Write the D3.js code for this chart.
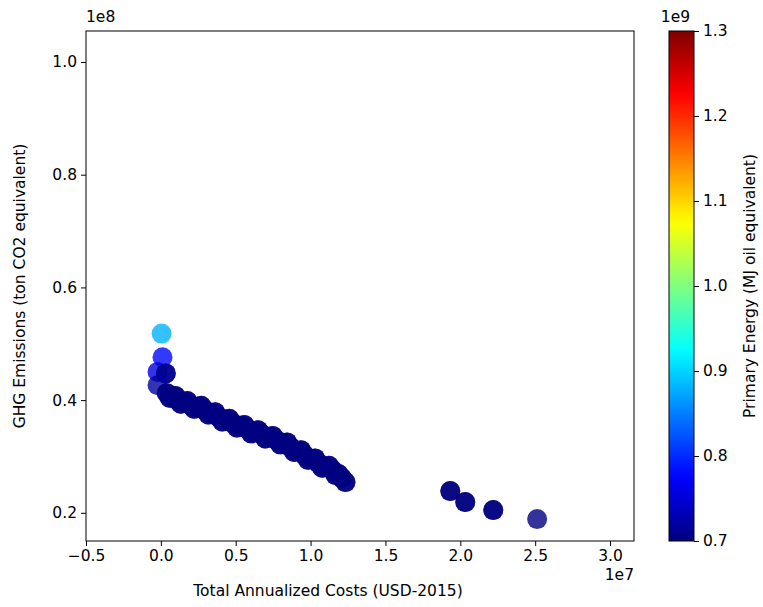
<!DOCTYPE html>
<html lang="en">
  <head>
    <meta charset="utf-8">
    <title>GHG vs costs</title>
    <script type="text/javascript" src="https://cdn.jsdelivr.net/npm/d3@7"></script>
    <style>
      body { margin: 0; background: #fff; }
      .axis text { font-family: "DejaVu Sans", sans-serif; font-size: 15.5px; fill: #000; }
      .axis line { stroke: #000; }
      .lbl { font-family: "DejaVu Sans", sans-serif; font-size: 15.5px; fill: #000; }
    </style>
  </head>
  <body>
    <script type="text/javascript">

      // total annualized costs (USD-2015)
      var costs = [
        0.005e7, 0.011e7, -0.022e7, 0.033e7, 0.033e7, -0.022e7,
        0.04e7, 0.06e7, 0.08e7, 0.097e7, 0.113e7, 0.133e7, 0.153e7, 0.177e7,
        0.2e7, 0.223e7, 0.247e7, 0.27e7, 0.293e7, 0.317e7, 0.34e7, 0.363e7,
        0.387e7, 0.41e7, 0.433e7, 0.457e7, 0.48e7, 0.507e7, 0.533e7, 0.557e7,
        0.58e7, 0.603e7, 0.627e7, 0.65e7, 0.673e7, 0.697e7, 0.72e7, 0.747e7,
        0.773e7, 0.797e7, 0.82e7, 0.843e7, 0.867e7, 0.89e7, 0.913e7, 0.937e7,
        0.96e7, 0.983e7, 1.007e7, 1.03e7, 1.053e7, 1.077e7, 1.1e7, 1.123e7,
        1.147e7, 1.167e7, 1.187e7, 1.21e7, 1.233e7,
        0.04e7, 0.06e7, 0.08e7, 0.097e7, 0.113e7, 0.133e7, 0.153e7, 0.177e7,
        0.2e7, 0.223e7, 0.247e7, 0.27e7, 0.293e7, 0.317e7, 0.34e7, 0.363e7,
        0.387e7, 0.41e7, 0.433e7, 0.457e7, 0.48e7, 0.507e7, 0.533e7, 0.557e7,
        0.58e7, 0.603e7, 0.627e7, 0.65e7, 0.673e7, 0.697e7, 0.72e7, 0.747e7,
        0.773e7, 0.797e7, 0.82e7, 0.843e7, 0.867e7, 0.89e7, 0.913e7, 0.937e7,
        0.96e7, 0.983e7, 1.007e7, 1.03e7, 1.053e7, 1.077e7, 1.1e7, 1.123e7,
        1.147e7, 1.167e7, 1.187e7, 1.21e7, 1.233e7,
        1.933e7, 1.933e7, 2.033e7, 2.033e7, 2.22e7, 2.22e7, 2.513e7
      ];
      // GHG emissions (ton CO2 equivalent)
      var emissions = [
        0.518e8, 0.476e8, 0.450e8, 0.4474e8, 0.4474e8, 0.4266e8,
        0.4124e8, 0.4040e8, 0.4053e8, 0.4075e8, 0.400e8, 0.3935e8, 0.3965e8, 0.3985e8,
        0.3911e8, 0.3845e8, 0.3876e8, 0.3900e8, 0.3823e8, 0.3745e8, 0.3769e8, 0.3785e8,
        0.3698e8, 0.3620e8, 0.3645e8, 0.3670e8, 0.3592e8, 0.3515e8, 0.3539e8, 0.3560e8,
        0.3486e8, 0.3410e8, 0.3432e8, 0.3465e8, 0.3397e8, 0.3320e8, 0.3344e8, 0.3365e8,
        0.3290e8, 0.3215e8, 0.3237e8, 0.3250e8, 0.3166e8, 0.3080e8, 0.3095e8, 0.3110e8,
        0.3024e8, 0.2940e8, 0.2953e8, 0.2965e8, 0.2882e8, 0.2800e8, 0.2812e8, 0.2835e8,
        0.2758e8, 0.2670e8, 0.2687e8, 0.2616e8, 0.2545e8,
        0.4124e8, 0.4040e8, 0.4053e8, 0.4075e8, 0.400e8, 0.3935e8, 0.3965e8, 0.3985e8,
        0.3911e8, 0.3845e8, 0.3876e8, 0.3900e8, 0.3823e8, 0.3745e8, 0.3769e8, 0.3785e8,
        0.3698e8, 0.3620e8, 0.3645e8, 0.3670e8, 0.3592e8, 0.3515e8, 0.3539e8, 0.3560e8,
        0.3486e8, 0.3410e8, 0.3432e8, 0.3465e8, 0.3397e8, 0.3320e8, 0.3344e8, 0.3365e8,
        0.3290e8, 0.3215e8, 0.3237e8, 0.3250e8, 0.3166e8, 0.3080e8, 0.3095e8, 0.3110e8,
        0.3024e8, 0.2940e8, 0.2953e8, 0.2965e8, 0.2882e8, 0.2800e8, 0.2812e8, 0.2835e8,
        0.2758e8, 0.2670e8, 0.2687e8, 0.2616e8, 0.2545e8,
        0.2386e8, 0.2386e8, 0.219e8, 0.219e8, 0.2049e8, 0.2049e8, 0.1889e8
      ];
      // primary energy (MJ oil equivalent); every point after the first five is at the bottom of the scale
      var energyTop = [0.88e9, 0.78e9, 0.76e9, 0.71e9, 0.71e9, 0.72e9];
      var energyLow = 0.70e9;

      var xTicks = [-0.5e7, 0, 0.5e7, 1.0e7, 1.5e7, 2.0e7, 2.5e7, 3.0e7];
      var yTicks = [0.2e8, 0.4e8, 0.6e8, 0.8e8, 1.0e8];
      var cTicks = [0.7e9, 0.8e9, 0.9e9, 1.0e9, 1.1e9, 1.2e9, 1.3e9];

      var w = 763;
      var h = 607;
      var pLeft = 86, pRight = 634, pTop = 31, pBottom = 541;
      var cbLeft = 669, cbWidth = 25;

      var mySvg = d3.select("body")
                    .append("svg")
                    .attr("width", w)
                    .attr("height", h);

      var xScale = d3.scaleLinear()
                     .domain([-0.5e7, 3.16e7])
                     .range([pLeft, pRight]);
      var yScale = d3.scaleLinear()
                     .domain([0.15e8, 1.055e8])
                     .range([pBottom, pTop]);

      function jet(t) {
        function c(v) { return Math.max(0, Math.min(1, v)); }
        var r = c(1.5 - Math.abs(4 * t - 3));
        var g = c(1.5 - Math.abs(4 * t - 2));
        var b = c(1.5 - Math.abs(4 * t - 1));
        return d3.rgb(r * 255, g * 255, b * 255).toString();
      }
      var cScale = d3.scaleSequential(jet).domain([0.7e9, 1.3e9]);

      function fmt(div) {
        return function(d) { return (d / div).toFixed(1).replace("-", "\u2212"); };
      }

      // points
      var pts = costs.map(function(d, i) {
        var e = i < energyTop.length ? energyTop[i] : energyLow;
        return [d, emissions[i], e];
      });
      mySvg.append("g")
           .selectAll("circle")
           .data(pts)
           .enter()
           .append("circle")
           .attr("cx", function(d) { return xScale(d[0]); })
           .attr("cy", function(d) { return yScale(d[1]); })
           .attr("r", 10)
           .attr("fill", function(d) { return cScale(d[2]); })
           .attr("fill-opacity", 0.8);

      var xAxis = d3.axisBottom(xScale).tickValues(xTicks).tickSize(5).tickPadding(4).tickFormat(fmt(1e7));
      var yAxis = d3.axisLeft(yScale).tickValues(yTicks).tickSize(5).tickPadding(4).tickFormat(fmt(1e8));

      var gx = mySvg.append("g")
           .attr("class", "axis")
           .attr("transform", "translate(0," + pBottom + ")")
           .call(xAxis);
      gx.select(".domain").remove();
      var gy = mySvg.append("g")
           .attr("class", "axis")
           .attr("transform", "translate(" + pLeft + ",0)")
           .call(yAxis);
      gy.select(".domain").remove();

      mySvg.append("rect")
           .attr("x", pLeft).attr("y", pTop)
           .attr("width", pRight - pLeft).attr("height", pBottom - pTop)
           .attr("fill", "none").attr("stroke", "#000").attr("stroke-width", 1);

      // labels
      mySvg.append("text").attr("class", "lbl")
           .attr("x", 328).attr("y", 596)
           .attr("text-anchor", "middle")
           .text("Total Annualized Costs (USD-2015)");
      mySvg.append("text").attr("class", "lbl")
           .attr("x", pRight).attr("y", 580)
           .attr("text-anchor", "end")
           .text("1e7");
      mySvg.append("text").attr("class", "lbl")
           .attr("x", pLeft).attr("y", 22)
           .text("1e8");
      mySvg.append("text").attr("class", "lbl")
           .attr("transform", "translate(25," + ((pTop + pBottom) / 2) + ") rotate(-90)")
           .attr("text-anchor", "middle")
           .text("GHG Emissions (ton CO2 equivalent)");

      // colorbar
      var defs = mySvg.append("defs");
      var grad = defs.append("linearGradient")
                     .attr("id", "jetgrad")
                     .attr("x1", 0).attr("y1", 1).attr("x2", 0).attr("y2", 0);
      d3.range(0, 1.0001, 0.02).forEach(function(t) {
        grad.append("stop").attr("offset", t).attr("stop-color", jet(t));
      });
      var cAxisScale = d3.scaleLinear().domain([0.7e9, 1.3e9]).range([pBottom, pTop]);
      mySvg.append("rect")
           .attr("x", cbLeft).attr("y", pTop)
           .attr("width", cbWidth).attr("height", pBottom - pTop)
           .attr("fill", "url(#jetgrad)")
           .attr("stroke", "#000").attr("stroke-width", 1);
      var gc = mySvg.append("g")
           .attr("class", "axis")
           .attr("transform", "translate(" + (cbLeft + cbWidth) + ",0)")
           .call(d3.axisRight(cAxisScale).tickValues(cTicks).tickSize(5).tickPadding(4).tickFormat(fmt(1e9)));
      gc.select(".domain").remove();
      mySvg.append("text").attr("class", "lbl")
           .attr("x", cbLeft + cbWidth / 2 - 6).attr("y", 22)
           .attr("text-anchor", "middle")
           .text("1e9");
      mySvg.append("text").attr("class", "lbl")
           .attr("transform", "translate(755," + ((pTop + pBottom) / 2) + ") rotate(-90)")
           .attr("text-anchor", "middle")
           .text("Primary Energy (MJ oil equivalent)");

    </script>
  </body>
</html>
